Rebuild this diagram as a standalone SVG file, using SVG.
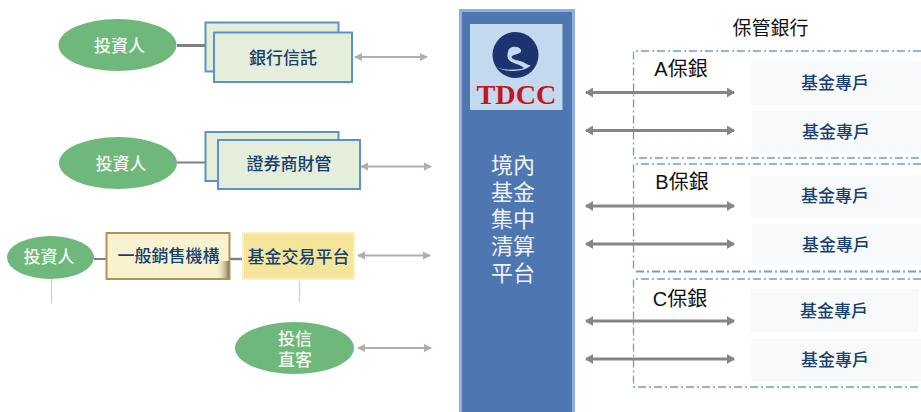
<svg xmlns="http://www.w3.org/2000/svg" width="921" height="412" viewBox="0 0 921 412">
<style>
text{font-family:"Liberation Sans","Noto Sans CJK TC","Noto Sans CJK SC",sans-serif;text-anchor:middle}
.oval{fill:#6fb87b}
.w{fill:#f2f7f0;font-size:17px;font-weight:500}
.n{fill:#173f70;font-size:17px;font-weight:500}
.g{fill:#e5eeda;stroke-width:2}
.conn{fill:none;stroke:#808080}
.ga{stroke:#b3adab;stroke-width:2;fill:none;marker-start:url(#ls);marker-end:url(#le)}
.da{stroke:#868686;stroke-width:3;fill:none;marker-start:url(#ds);marker-end:url(#de)}
.dash{fill:none;stroke:#6f9fc8;stroke-width:1.3;stroke-dasharray:8 3 2 3}
.acct{fill:#f8f9fa}
.k{fill:#111;font-size:19px}
.l{font-size:20px}
.pw{fill:#eef3fa;font-size:22px}
</style>
<defs>
<marker id="le" markerUnits="userSpaceOnUse" markerWidth="8" markerHeight="10" refX="7" refY="5" orient="auto"><path d="M0 1L8 5L0 9Z" fill="#b3adab"/></marker>
<marker id="ls" markerUnits="userSpaceOnUse" markerWidth="8" markerHeight="10" refX="1" refY="5" orient="auto"><path d="M8 1L0 5L8 9Z" fill="#b3adab"/></marker>
<marker id="de" markerUnits="userSpaceOnUse" markerWidth="8" markerHeight="10" refX="7" refY="5" orient="auto"><path d="M0 0L8 5L0 10Z" fill="#868686"/></marker>
<marker id="ds" markerUnits="userSpaceOnUse" markerWidth="8" markerHeight="10" refX="1" refY="5" orient="auto"><path d="M8 0L0 5L8 10Z" fill="#868686"/></marker>
<linearGradient id="shade" x1="0" y1="0" x2="1" y2="0"><stop offset="0" stop-color="#f8f2cf" stop-opacity="0"/><stop offset="1" stop-color="#8a7a50"/></linearGradient>
</defs>
<rect width="921" height="412" fill="#fff"/>
<g id="custody-groups">
<path class="dash" d="M921 51H633.500V158H921"/>
<path class="dash" d="M921 164H633.500V271.500"/>
<path class="dash" style="stroke-width:2" d="M636 271.500H921"/>
<path class="dash" d="M921 279H633.500V387H921"/>
</g>
<g id="accounts">
<g id="acct-a1"><rect class="acct" x="751" y="60.500" width="170" height="44.500"/><text class="n" x="835" y="88.500">基金專戶</text></g>
<g id="acct-a2"><rect class="acct" x="752" y="110" width="169" height="43"/><text class="n" x="836" y="137.500">基金專戶</text></g>
<g id="acct-b1"><rect class="acct" x="751" y="175" width="170" height="43"/><text class="n" x="835" y="201.500">基金專戶</text></g>
<g id="acct-b2"><rect class="acct" x="752" y="224" width="169" height="41"/><text class="n" x="836" y="250.500">基金專戶</text></g>
<g id="acct-c1"><rect class="acct" x="750" y="289" width="169" height="43"/><text class="n" x="834" y="316.500">基金專戶</text></g>
<g id="acct-c2"><rect class="acct" x="751" y="339" width="170" height="42"/><text class="n" x="835" y="365.500">基金專戶</text></g>
</g>
<g id="connectors">
<path class="conn" stroke-width="3" d="M177 45.500H206"/>
<path class="conn" stroke-width="2" d="M177 162.500H206"/>
<path class="conn" stroke-width="2" d="M94 259H107"/>
<path class="conn" stroke-width="2.500" d="M230 259H243"/>
<path d="M51.500 279V303" stroke="#c8c8c8" fill="none"/>
<path d="M299.500 281V302" stroke="#d4d4d4" stroke-width="1.500" fill="none"/>
<path class="ga" d="M355 57H427"/>
<path class="ga" d="M361 166.500H431"/>
<path class="ga" d="M358 255.500H430"/>
<path class="ga" d="M358 348H431"/>
<path class="da" d="M586 92.500H734"/>
<path class="da" d="M586 130.500H734"/>
<path class="da" d="M586 206H734"/>
<path class="da" d="M586 244H734"/>
<path class="da" d="M586 321H734"/>
<path class="da" d="M586 359H734"/>
</g>
<g id="investor-1"><ellipse class="oval" cx="117.500" cy="45" rx="59" ry="26"/><text class="w" x="119.500" y="52">投資人</text></g>
<g id="bank-trust">
<rect class="g" x="205.500" y="22.500" width="133" height="49" stroke="#5a93c4"/>
<rect class="g" x="214" y="32.500" width="138" height="49.500" stroke="#5a93c4"/>
<text class="n" x="283" y="64">銀行信託</text>
</g>
<g id="investor-2"><ellipse class="oval" cx="118" cy="163" rx="59" ry="26"/><text class="w" x="121" y="169.500">投資人</text></g>
<g id="broker">
<rect class="g" x="205.500" y="132" width="133" height="49" stroke="#5a93c4"/>
<rect class="g" x="218" y="140" width="142" height="49" stroke="#5a93c4"/>
<text class="n" x="289" y="170">證券商財管</text>
</g>
<g id="investor-3"><ellipse class="oval" cx="50.500" cy="257.500" rx="43.500" ry="21.500"/><text class="w" x="49" y="263">投資人</text></g>
<g id="distributor">
<rect x="106.500" y="233" width="123" height="46" fill="#f8f2cf" stroke="#ac9556" stroke-width="2"/>
<rect x="216" y="261" width="13" height="17" fill="url(#shade)"/>
<text class="n" x="168.500" y="262">一般銷售機構</text>
</g>
<g id="platform">
<rect x="243" y="233" width="111" height="46" fill="#f5e59b" stroke="#f9f0c4" stroke-width="2"/>
<text class="n" x="298.500" y="263">基金交易平台</text>
</g>
<g id="sitc-direct">
<ellipse class="oval" cx="294.500" cy="348" rx="59.500" ry="26"/>
<text class="w" x="295" y="345">投信<tspan x="295" dy="21">直客</tspan></text>
</g>
<g id="tdcc">
<rect x="459" y="9" width="116" height="403" fill="#8fb0dc"/>
<rect x="462" y="12" width="110" height="400" fill="#4e76b1"/>
<rect x="470" y="24" width="92.500" height="86" fill="#c3d9ee"/>
<circle cx="515.500" cy="55" r="23" fill="#1f3270"/>
<path d="M508 52C508 46 519 45 521 50C522 54 516 54 512 56C510 58 514 60 520 61C525 62 528 66 531 65C526 72 506 73 496 67C505 71 519 70 524 68C520 64 514 64 510 61C507 59 507 55 508 52Z" fill="#c3d9ee"/>
<text x="516.500" y="104" font-size="28" font-weight="700" fill="#c4161c" style="font-family:'Liberation Serif',serif" textLength="80" lengthAdjust="spacingAndGlyphs">TDCC</text>
<text class="pw" x="513" y="173">境內<tspan x="513" dy="27">基金</tspan><tspan x="513" dy="27">集中</tspan><tspan x="513" dy="27">清算</tspan><tspan x="513" dy="27">平台</tspan></text>
</g>
<g id="labels">
<text class="k" x="770.500" y="35">保管銀行</text>
<text class="k l" x="681" y="76">A保銀</text>
<text class="k l" x="682" y="189">B保銀</text>
<text class="k l" x="680" y="306">C保銀</text>
</g>
</svg>
